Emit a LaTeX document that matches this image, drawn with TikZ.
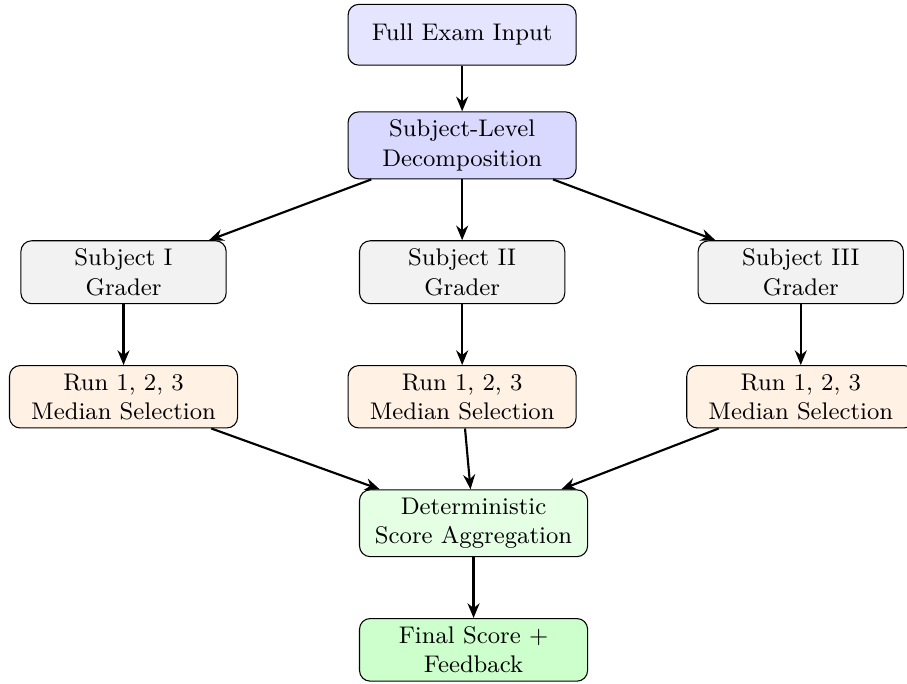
\documentclass[tikz,border=0pt]{standalone}
\usepackage{tikz}
\usetikzlibrary{positioning, calc, arrows.meta}

\begin{document}
\begin{tikzpicture}[
    box/.style={draw, rounded corners, align=center, font=\small,
                minimum width=3cm, inner sep=3pt},
    grader/.style={box, fill=gray!10, minimum width=2.7cm},
    run/.style={box, fill=orange!10},
    flow/.style={-{Stealth[length=5.5pt, width=4.5pt]}, thick}]
%
\node [box, fill=blue!10, minimum height=0.8cm] (input) {Full Exam Input};
\node [box, fill=blue!15, below=0.6cm of input] (split) {Subject-Level\\Decomposition};

\node [grader, below=0.8cm of split] (g2) {Subject II\\Grader};
\node [grader, left=1.74cm of g2] (g1) {Subject I\\Grader};
\node [grader, right=1.74cm of g2] (g3) {Subject III\\Grader};

\node [run, below=0.8cm of g1] (r1) {Run 1, 2, 3\\Median Selection};
\node [run, below=0.8cm of g2] (r2) {Run 1, 2, 3\\Median Selection};
\node [run, below=0.8cm of g3] (r3) {Run 1, 2, 3\\Median Selection};

\node [box, fill=green!10, below=0.8cm of r2, xshift=0.15cm] (agg) {Deterministic\\Score Aggregation};
\node [box, fill=green!20, below=0.8cm of agg] (final) {Final Score $+$\\Feedback};

\draw [flow] (input) -- (split);
\foreach \i in {1, 2, 3} {
  \draw [flow] (split) -- (g\i);
  \draw [flow] (g\i) -- (r\i);
  \draw [flow] (r\i) -- (agg);
}
\draw [flow] (agg) -- (final);

%
\pgfresetboundingbox
\path [use as bounding box] ($(r1.west |- input.north) + (-0.118, 0.05)$)
  rectangle ($(r3.east |- final.south) + (-0.11, -0.03)$);
\end{tikzpicture}
\end{document}
